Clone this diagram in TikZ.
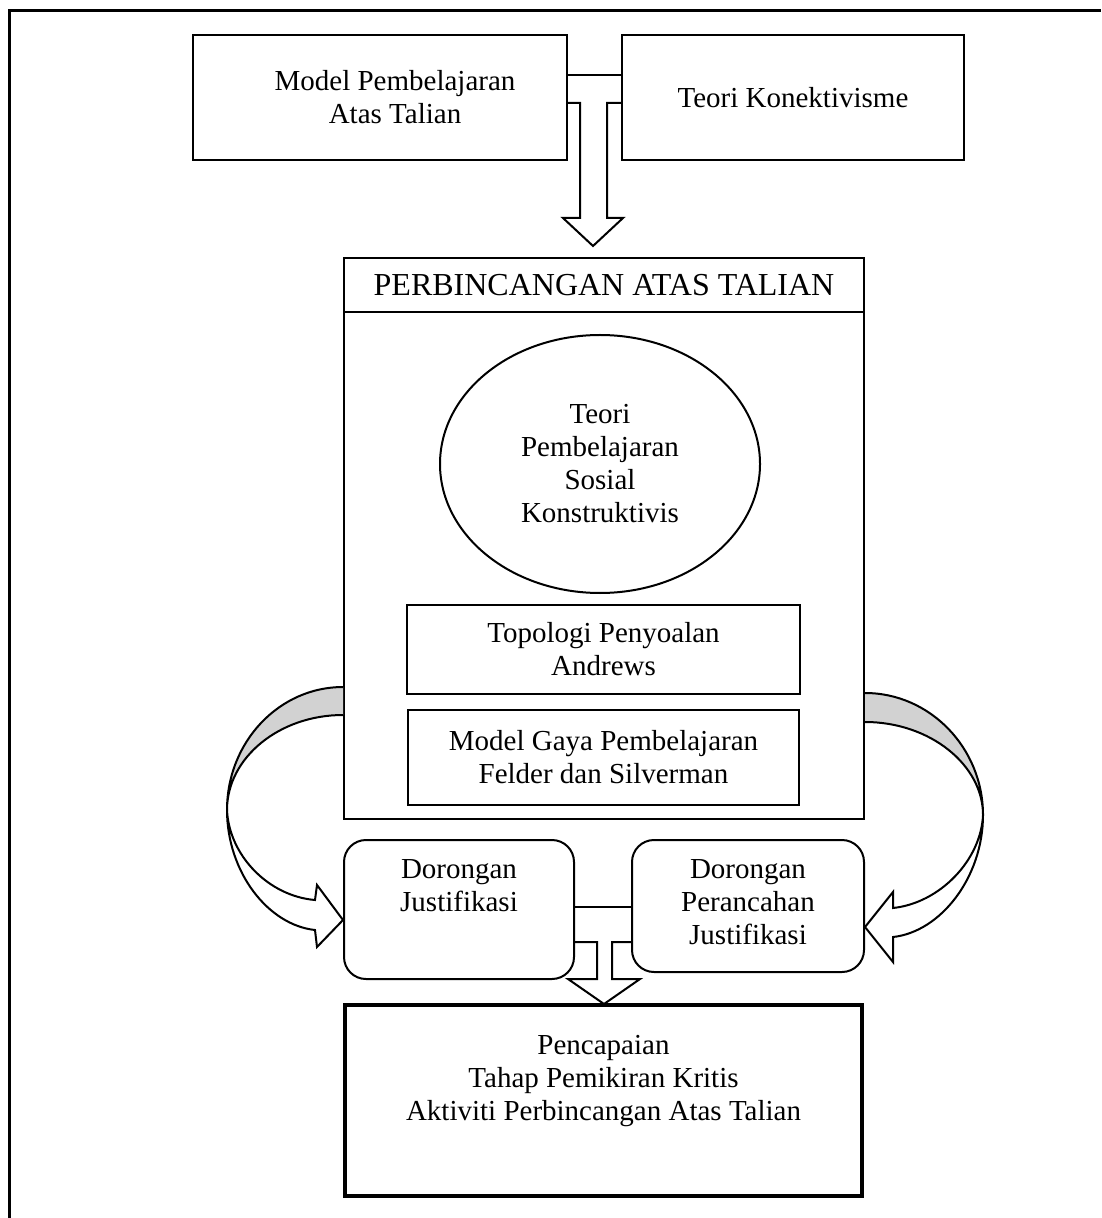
\documentclass[tikz,border=0pt]{standalone}
\usepackage{fontspec}
\setmainfont{Liberation Serif}
\usetikzlibrary{calc,positioning,shapes.geometric}

\begin{document}
\begin{tikzpicture}[
    x=0.5pt, y=-0.5pt,
    font=\fontsize{14.5}{16.5}\selectfont,
    box/.style={draw, line width=1pt, inner sep=0pt, align=center},
    roundbox/.style={box, rounded corners=11pt},
    bigbox/.style={box, line width=2pt},
    oval/.style={box, ellipse},
    boxtext/.style={inner sep=0pt, align=center},
    blockarrow/.style={draw, line width=1pt, fill=white, line join=miter},
    backface/.style={draw, line width=1pt, fill=gray!35},
    frame/.style={line width=1.5pt}
  ]
    \useasboundingbox (0,0) rectangle (1101,1218);
    \draw[frame] (9.5,1218) -- (9.5,10.5) -- (1101,10.5);

    % inputs
    \node[box, minimum width=187pt, minimum height=62.5pt] (model) at (380,97.5) {};
    \node[boxtext] (modeltext) at ($(model)+(15,0)$) {Model Pembelajaran\\Atas Talian};
    \node[box, minimum width=171pt, minimum height=62.5pt] (konektivisme) at (793,97.5) {Teori Konektivisme};
    \draw[line width=1pt] (model.east |- 0,75) -- (konektivisme.west |- 0,75);

    % online discussion
    \node[box, minimum width=260pt, minimum height=280.5pt] (forum) at (604,538.5) {};
    \node[box, minimum width=260pt, minimum height=27pt, font=\fontsize{16}{18}\selectfont] (forumtitle) at (604,285) {PERBINCANGAN ATAS TALIAN};
    \node[oval, minimum width=160pt, minimum height=129pt] (sosial) at (600,464) {Teori\\Pembelajaran\\Sosial\\Konstruktivis};
    \node[box, minimum width=196.5pt, minimum height=44.5pt] (topologi) at (603.5,649.5) {Topologi Penyoalan\\Andrews};
    \node[box, minimum width=195.5pt, minimum height=47.5pt, below=7pt of topologi] (felder) {Model Gaya Pembelajaran\\Felder dan Silverman};

    % prompts
    \node[roundbox, minimum width=115pt, minimum height=69.5pt] (justifikasi) at (459,909.5) {};
    \node[boxtext, below=10pt of justifikasi.north] (justifikasitext) {Dorongan\\Justifikasi};
    \node[roundbox, minimum width=116pt, minimum height=66pt] (perancahan) at (748,906) {};
    \node[boxtext, below=10pt of perancahan.north] (perancahantext) {Dorongan\\Perancahan\\Justifikasi};
    \draw[line width=1pt] (justifikasi.east |- 0,907) -- (perancahan.west |- 0,907);

    % outcome
    \node[bigbox, minimum width=258.5pt, minimum height=95.5pt] (pencapaian) at (603.5,1100.5) {};
    \node[boxtext, below=16pt of pencapaian.north] (pencapaiantext) {Pencapaian\\Tahap Pemikiran Kritis\\Aktiviti Perbincangan Atas Talian};

    % block arrows
    \draw[blockarrow] (model.east |- 0,103) -- (580,103) -- (580,218) -- (563,218) -- (593,246)
      -- (623,218) -- (607,218) -- (607,103) -- (konektivisme.west |- 0,103);
    \draw[blockarrow] (justifikasi.east |- 0,942) -- (597,942) -- (597,979) -- (568,979) -- (604,1004)
      -- (640,979) -- (612,979) -- (612,942) -- (perancahan.west |- 0,942);

    % curved arrows
    \draw[backface] (forum.west |- 0,687) .. controls (279,687) and (227,742) .. (227,810)
      .. controls (227,758) and (279,715) .. (forum.west |- 0,715);
    \draw[blockarrow] (227,810) .. controls (227,872) and (268,925) .. (315,930) -- (317,947)
      -- (justifikasi.west |- 0,920) -- (317,885) -- (315,900) .. controls (268,896) and (229,855) .. (227,810);
    \draw[backface] (forum.east |- 0,693) .. controls (930,693) and (983,748) .. (983,815)
      .. controls (983,765) and (930,722) .. (forum.east |- 0,722);
    \draw[blockarrow] (983,815) .. controls (983,878) and (940,932) .. (893,937) -- (893,962)
      -- (perancahan.east |- 0,927) -- (893,892) -- (893,908) .. controls (940,903) and (981,860) .. (983,815);
  \end{tikzpicture}
\end{document}
